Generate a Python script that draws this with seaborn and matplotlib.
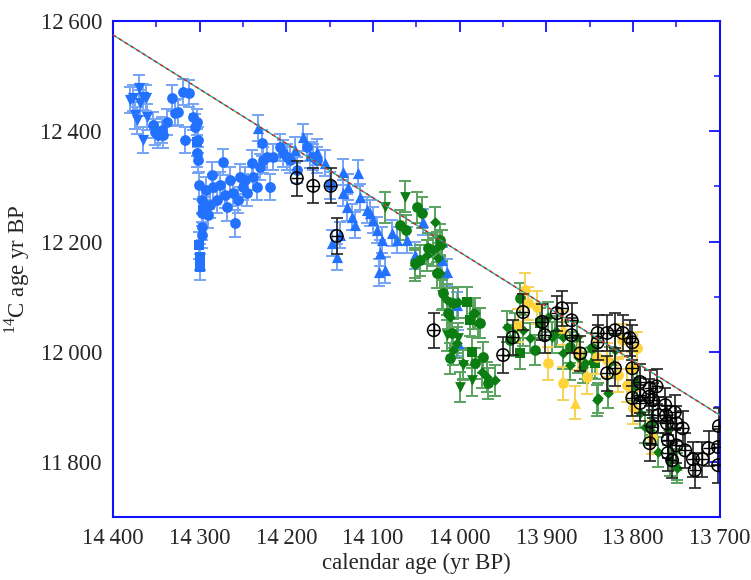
import matplotlib
matplotlib.use("Agg")
import matplotlib.pyplot as plt
import matplotlib.ticker as mticker
import seaborn as sns
import pandas as pd

# ---------------- data (calendar age, 14C age) ----------------
blue_v_cal = [14377, 14370, 14365, 14362, 14372, 14365, 14361, 14369, 14380, 14375]
blue_v_c14 = [12460, 12478, 12462, 12460, 12420, 12384, 12426, 12451, 12457, 12429]

blue_o_cal = [14354, 14352, 14348, 14343, 14338, 14342, 14332, 14328, 14325, 14319,
              14312, 14317, 14308, 14303, 14305, 14302, 14303, 14302, 14301, 14297,
              14297, 14297, 14297, 14285, 14280, 14273, 14269, 14265, 14262, 14259,
              14254, 14250, 14245, 14240, 14239, 14234, 14230, 14228, 14227, 14222,
              14219, 14215, 14207, 14204, 14199, 14196, 14188, 14176, 14169, 14165,
              14150, 14293, 14288, 14290, 14286, 14277, 14271, 14256, 14248]
blue_o_c14 = [12411, 12399, 12393, 12402, 12417, 12393, 12460, 12433, 12435, 12471,
              12469, 12384, 12426, 12417, 12408, 12384, 12360, 12348, 12302, 12275,
              12252, 12226, 12212, 12299, 12275, 12344, 12262, 12311, 12288, 12233,
              12317, 12299, 12288, 12342, 12317, 12299, 12335, 12379, 12348, 12353,
              12299, 12353, 12371, 12360, 12353, 12348, 12330, 12371, 12353, 12348,
              12302, 12293, 12266, 12248, 12320, 12302, 12284, 12275, 12311]

blue_s_cal = [14300, 14300, 14301, 14303, 14296]
blue_s_c14 = [12172, 12154, 12193, 12380, 12257]

blue_t_cal = [14181, 14173, 14165, 14155, 14135, 14117, 14135, 14129, 14130, 14124,
              14121, 14115, 14107, 14104, 14100, 14096, 14090, 14092, 14086, 14093,
              14147, 14138, 14142, 14078, 14072, 14061, 14052, 14042, 14021, 14015,
              14003, 14002, 14233, 14190]
blue_t_c14 = [12389, 12357, 12362, 12342, 12326, 12324, 12288, 12299, 12262, 12244,
              12230, 12281, 12257, 12252, 12239, 12221, 12203, 12179, 12148, 12144,
              12197, 12212, 12172, 12215, 12203, 12203, 12175, 12235, 12166, 12144,
              12085, 12016, 12406, 12366]

green_o_cal = [14049, 14044, 14069, 14062, 14052, 14046, 14037, 14023, 14026, 14019,
               14014, 14008, 14009, 14011, 13982, 13973, 13967, 13977, 13942, 13931,
               13913, 13873, 13848, 13800]
green_o_c14 = [12262, 12252, 12230, 12221, 12161, 12166, 12188, 12203, 12143, 12106,
               12070, 12088, 12034, 11988, 11979, 11990, 11943, 12052, 12021, 12097,
               12003, 12008, 12006, 11939]

green_s_cal = [13988, 13992, 13986, 13931, 13908, 13844]
green_s_c14 = [12057, 12090, 11999, 11997, 12052, 11979]

green_v_cal = [14086, 14063, 14015, 14000, 13996, 13986, 14021, 14002]
green_v_c14 = [12262, 12281, 12030, 11936, 11976, 11948, 12103, 12025]

green_t_cal = [13796, 13778, 13749]
green_t_c14 = [11948, 11876, 11795]

green_d_cal = [14038, 14029, 14026, 14031, 14025, 14021, 14015, 14002, 13985, 14003,
               14011, 14008, 13996, 13982, 13979, 13974, 13969, 13959, 13946, 13936,
               13927, 13919, 13898, 13894, 13888, 13881, 13865, 13856, 13848, 13842,
               13890, 13881, 13873, 13864, 13858, 13841, 13829, 13827, 13821, 13792,
               13786, 13781, 13771, 13760, 13749, 13758, 14052, 14023]
green_d_c14 = [12175, 12235, 12190, 12184, 12170, 12193, 12094, 12090, 12070, 12016,
               12063, 12003, 11979, 12070, 12052, 11963, 11954, 11948, 12045, 12043,
               12039, 12025, 12063, 12026, 12036, 11997, 12026, 11979, 11981, 11912,
               12036, 12026, 11976, 11990, 11972, 11916, 11925, 11981, 12003, 11889,
               11863, 11858, 11818, 11858, 11789, 11803, 12157, 12143]

yellow_o_cal = [13925, 13921, 13911, 13933, 13898, 13881, 13864, 13853, 13842, 13830,
                13818, 13813, 13807, 13801, 13796, 13800, 13778]
yellow_o_c14 = [12112, 12088, 12081, 12048, 11979, 11943, 11997, 11954, 11990, 11985,
                11957, 12021, 11939, 11970, 12006, 11898, 11845]

yellow_t_cal = [13867, 13881]
yellow_t_c14 = [11907, 12043]

black_cal = [14188, 14169, 14149, 14142, 14030, 13950, 13939, 13927, 13905, 13902,
             13888, 13882, 13871, 13871, 13861, 13841, 13841, 13830, 13821, 13821,
             13830, 13812, 13804, 13801, 13801, 13792, 13781, 13773, 13782, 13777,
             13792, 13801, 13792, 13763, 13752, 13771, 13761, 13750, 13743, 13778,
             13781, 13760, 13750, 13740, 13755, 13731, 13729, 13720, 13713, 13702,
             13701, 13702, 13762, 13760]
black_c14 = [12315, 12301, 12301, 12210, 12039, 11994, 12026, 12072, 12054, 12030,
             12070, 12079, 12057, 12030, 11997, 12034, 12017, 12034, 12039, 11970,
             11961, 12034, 12025, 12017, 11970, 11945, 11934, 11937, 11918, 11912,
             11921, 11916, 11907, 11903, 11890, 11885, 11870, 11870, 11861, 11863,
             11834, 11816, 11830, 11821, 11803, 11805, 11785, 11805, 11825, 11827,
             11865, 11794, 11885, 11840]

line_cal = [14400, 13700]
line_c14 = [12575, 11885]

err_blue = 24
err_green = 28
err_yellow = 30
err_black = 32

x_ticks = [14400, 14300, 14200, 14100, 14000, 13900, 13800, 13700]
y_ticks = [11800, 12000, 12200, 12400, 12600]

# ---------------- style ----------------
sns.set_style("white")
plt.rcParams["font.family"] = ["Liberation Serif", "DejaVu Serif"]
plt.rcParams["mathtext.fontset"] = "custom"
plt.rcParams["mathtext.rm"] = "Liberation Serif"

fig = plt.figure(figsize=(7.51, 5.80), dpi=100)
ax = fig.add_axes([0.1505, 0.1086, 0.808, 0.855])

BLUE = "#2372ff"
BLUE_E = "#77a5f5"
GREEN = "#0b7d12"
GREEN_E = "#5aa35f"
YELLOW = "#ffd43b"
YELLOW_E = "#f5d35a"


def draw(cal, c14, err, mcol, ecol, marker, size, lw=0):
    ax.errorbar(cal, c14, yerr=err, fmt="none", ecolor=ecol, elinewidth=1.4,
                capsize=4, capthick=1.4, zorder=2)
    df = pd.DataFrame({"cal": cal, "c14": c14})
    sns.scatterplot(data=df, x="cal", y="c14", ax=ax, marker=marker, s=size,
                    color=mcol, edgecolor=mcol, linewidth=lw, zorder=3, legend=False)


draw(blue_v_cal, blue_v_c14, err_blue, BLUE, BLUE_E, "v", 65)
draw(blue_o_cal, blue_o_c14, err_blue, BLUE, BLUE_E, "o", 60)
draw(blue_s_cal, blue_s_c14, err_blue, BLUE, BLUE_E, "s", 60)
draw(blue_t_cal, blue_t_c14, err_blue, BLUE, BLUE_E, "^", 65)
draw(green_o_cal, green_o_c14, err_green, GREEN, GREEN_E, "o", 60)
draw(green_s_cal, green_s_c14, err_green, GREEN, GREEN_E, "s", 55)
draw(green_v_cal, green_v_c14, err_green, GREEN, GREEN_E, "v", 60)
draw(green_t_cal, green_t_c14, err_green, GREEN, GREEN_E, "^", 55)
draw(green_d_cal, green_d_c14, err_green, GREEN, GREEN_E, "D", 30)
draw(yellow_o_cal, yellow_o_c14, err_yellow, YELLOW, YELLOW_E, "o", 60)
draw(yellow_t_cal, yellow_t_c14, err_yellow, YELLOW, YELLOW_E, "^", 60)

# black open circles with a cross
ax.errorbar(black_cal, black_c14, yerr=err_black, fmt="none", ecolor="#222222",
            elinewidth=1.2, capsize=4, capthick=1.2, zorder=4)
dfb = pd.DataFrame({"cal": black_cal, "c14": black_c14})
sns.scatterplot(data=dfb, x="cal", y="c14", ax=ax, marker="o", s=80,
                facecolor="none", edgecolor="black", linewidth=1.1, zorder=5, legend=False)
sns.scatterplot(data=dfb, x="cal", y="c14", ax=ax, marker="+", s=65,
                color="black", linewidth=1.0, zorder=5, legend=False)

# reference line (red / teal dashed)
ax.plot(line_cal, line_c14, color="#20b2a0", lw=1.0, zorder=6)
ax.plot(line_cal, line_c14, color="#e02020", lw=1.0, ls=(0, (2.5, 2.5)), zorder=7)

ax.set_xlim(14400, 13700)
ax.set_ylim(11700, 12600)


def fmt(v, pos):
    s = f"{int(round(v)):d}"
    return s[:-3] + "\u2009" + s[-3:]


ax.xaxis.set_major_locator(mticker.FixedLocator(x_ticks))
ax.yaxis.set_major_locator(mticker.FixedLocator(y_ticks))
ax.xaxis.set_minor_locator(mticker.MultipleLocator(50))
ax.yaxis.set_minor_locator(mticker.MultipleLocator(100))
ax.xaxis.set_major_formatter(mticker.FuncFormatter(fmt))
ax.yaxis.set_major_formatter(mticker.FuncFormatter(fmt))

for sp in ax.spines.values():
    sp.set_color("#1010ff")
    sp.set_linewidth(1.5)
ax.tick_params(which="both", direction="in", color="#1010ff", top=True, right=True,
               labelsize=16.5, pad=8)
ax.tick_params(which="major", length=8, width=1.3)
ax.tick_params(which="minor", length=4.5, width=1.1)

ax.set_xlabel("calendar age (yr BP)", fontsize=16.5, labelpad=3)
ax.set_ylabel("$^{14}$C age yr BP", fontsize=16.5, labelpad=6)

fig.savefig("out.png", dpi=100)
